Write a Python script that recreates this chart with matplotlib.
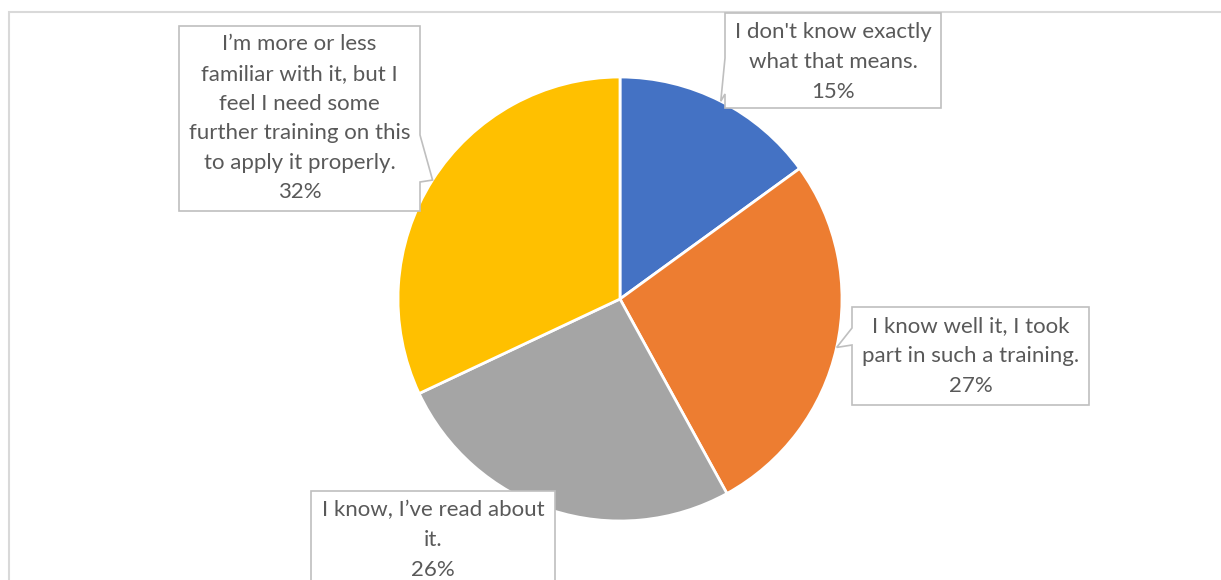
import matplotlib.pyplot as plt
import numpy as np
from matplotlib.patches import Polygon, Rectangle

labels = ["I don't know exactly\nwhat that means.",
          "I know well it, I took\npart in such a training.",
          "I know, I\u2019ve read about\nit.",
          "I\u2019m more or less\nfamiliar with it, but I\nfeel I need some\nfurther training on this\nto apply it properly."]
values = [15, 27, 26, 32]
colors = ['#4472C4', '#ED7D31', '#A5A5A5', '#FFC000']

W, H = 1221, 580
def Y(y):
    return H - y

fig = plt.figure(figsize=(W / 100, H / 100), dpi=100)
ax = fig.add_axes([0, 0, 1, 1])

cx, cy, r = 620, 299, 222
ax.pie(values, colors=colors, startangle=90, counterclock=False,
       center=(cx, Y(cy)), radius=r,
       wedgeprops=dict(edgecolor='white', linewidth=2))
ax.set_xlim(0, W)
ax.set_ylim(0, H)
ax.set_aspect('equal')
ax.axis('off')

# outer chart border (cropped on right/bottom)
ax.add_patch(Rectangle((8.5, Y(H + 20)), W + 20, H + 20 - 11.5, fill=False,
                       edgecolor='#d9d9d9', lw=1.5, zorder=0))

# callouts: box (x0, y0, x1, y1) in image px, notch side, notch span
callouts = [
    ((725, 13, 941, 108), 'left', (58, 94)),
    ((852, 307, 1089, 405), 'left', (328, 345)),
    ((311, 491, 555, 640), None, None),
    ((179, 26, 420, 211), 'right', (135, 182)),
]

cum = np.cumsum([0] + values[:-1])
for i, (lab, v) in enumerate(zip(labels, values)):
    (x0, y0, x1, y1), side, notch = callouts[i]
    ang = np.deg2rad(90 - 360 * (cum[i] + v / 2) / 100)
    tx, ty = cx + r * np.cos(ang), cy - r * np.sin(ang)
    if side == 'left':
        pts = [(x0, y0), (x1, y0), (x1, y1), (x0, y1),
               (x0, notch[1]), (tx, ty), (x0, notch[0])]
    elif side == 'right':
        pts = [(x0, y0), (x1, y0), (x1, notch[0]), (tx, ty),
               (x1, notch[1]), (x1, y1), (x0, y1)]
    else:
        pts = [(x0, y0), (x1, y0), (x1, y1), (x0, y1)]
    ax.add_patch(Polygon([(px, Y(py)) for px, py in pts], closed=True,
                         facecolor='white', edgecolor='#bfbfbf', lw=1.2,
                         zorder=5))
    nlines = lab.count('\n') + 2
    ty0 = y0 + 6 + 29 * (nlines - 1) / 2 + 14
    ax.text((x0 + x1) / 2, Y(ty0), lab + f"\n{v}%", ha='center', va='center',
            fontsize=16, family='Lato', color='#595959', linespacing=1.6,
            zorder=6)

fig.savefig('out.png', dpi=100)
